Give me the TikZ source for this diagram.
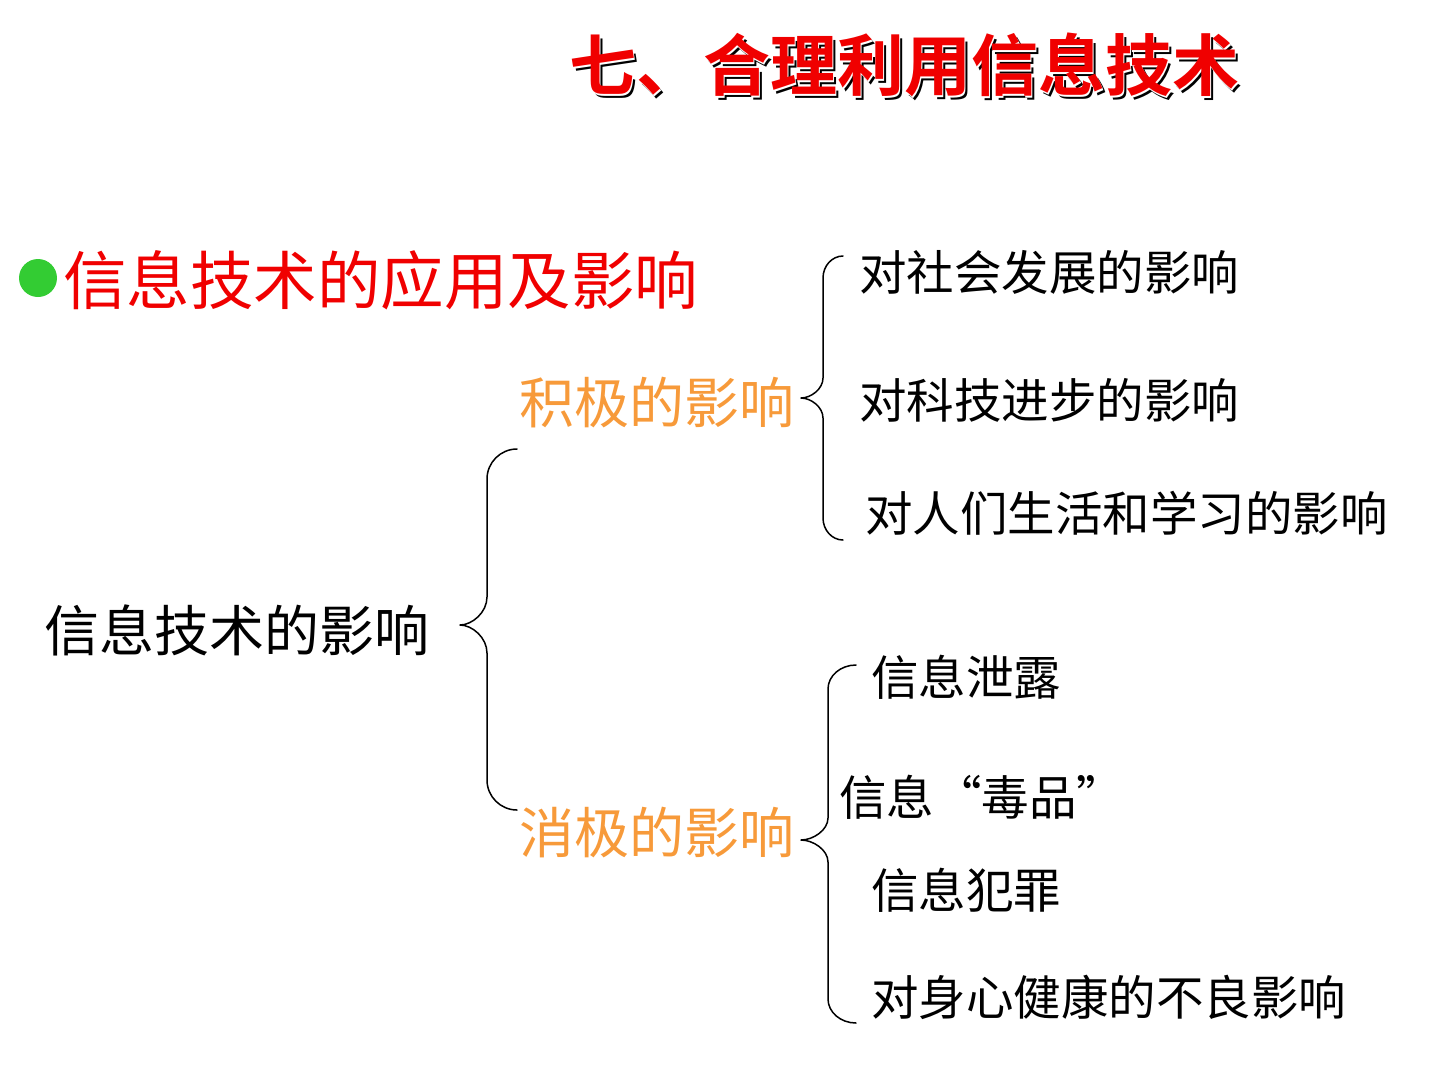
\documentclass[tikz,border=0pt]{standalone}
\usepackage{fontspec}
\newfontfamily\cjk{Noto Sans CJK SC}
\newfontfamily\cjkbold{Noto Sans CJK SC Bold}
\definecolor{titlered}{HTML}{F00000}
\definecolor{bulletgreen}{HTML}{33CC33}
\definecolor{warmorange}{HTML}{F79A3A}
% #1 x of ends, #2 y top, #3 x vertical, #4 x tip, #5 y tip, #6 y bottom, #7 end radius, #8 tip radius
\newcommand\curlybrace[8]{%
  \draw[brace] (#1,#2) .. controls ({#3+0.45*(#1-#3)},#2) and (#3,{#2+0.45*#7}) .. (#3,{#2+#7})
   -- (#3,{#5-#8}) .. controls (#3,{#5-0.45*#8}) and ({#4+0.45*(#3-#4)},#5) .. (#4,#5)
   .. controls ({#4+0.45*(#3-#4)},#5) and (#3,{#5+0.45*#8}) .. (#3,{#5+#8})
   -- (#3,{#6-#7}) .. controls (#3,{#6-0.45*#7}) and ({#3+0.45*(#1-#3)},#6) .. (#1,#6);}
\begin{document}
\begin{tikzpicture}[x=1pt,y=-1pt,
  lbl/.style={inner sep=0pt,anchor=west,font=\cjk\fontsize{#1}{#1}\selectfont},
  lbl/.default=47,
  ttl/.style={inner sep=0pt,font=\cjkbold\fontsize{67}{67}\selectfont},
  brace/.style={draw=black,line width=1.5pt,line join=round,line cap=round}]
\useasboundingbox (0,0) rectangle (1440,1080);
% title with shadow effect
\node[ttl,text=black] (titleshadow) at (907.5,68.5) {七、合理利用信息技术};
\node[ttl,text=white] (titlewhite) at (905.5,66.5) {七、合理利用信息技术};
\node[ttl,text=titlered] (title) at (904,65) {七、合理利用信息技术};
% bullet heading
\fill[bulletgreen] (38,278) circle (19);
\node[lbl=63.5,text=titlered] (heading) at (63,280) {信息技术的应用及影响};
% tree labels
\node[lbl=55] (root) at (44,630) {信息技术的影响};
\node[lbl=55,text=warmorange] (pos) at (519,403) {积极的影响};
\node[lbl=55,text=warmorange] (neg) at (519,833) {消极的影响};
\node[lbl=47.5] (p1) at (859,272) {对社会发展的影响};
\node[lbl=47.5] (p2) at (859,400) {对科技进步的影响};
\node[lbl=47.5] (p3) at (865,513) {对人们生活和学习的影响};
\node[lbl=47.5] (n1) at (871,677) {信息泄露};
\node[lbl=47.5] (n2) at (839,797) {信息“毒品”};
\node[lbl=47.5] (n3) at (871,890) {信息犯罪};
\node[lbl=47.5] (n4) at (871,997) {对身心健康的不良影响};
% braces
\curlybrace{517}{449}{487}{460}{625}{810}{30}{28}
\curlybrace{843}{256}{823}{801}{398}{540}{22}{20}
\curlybrace{856}{665}{828}{801}{840}{1023}{24}{22}
\end{tikzpicture}
\end{document}
